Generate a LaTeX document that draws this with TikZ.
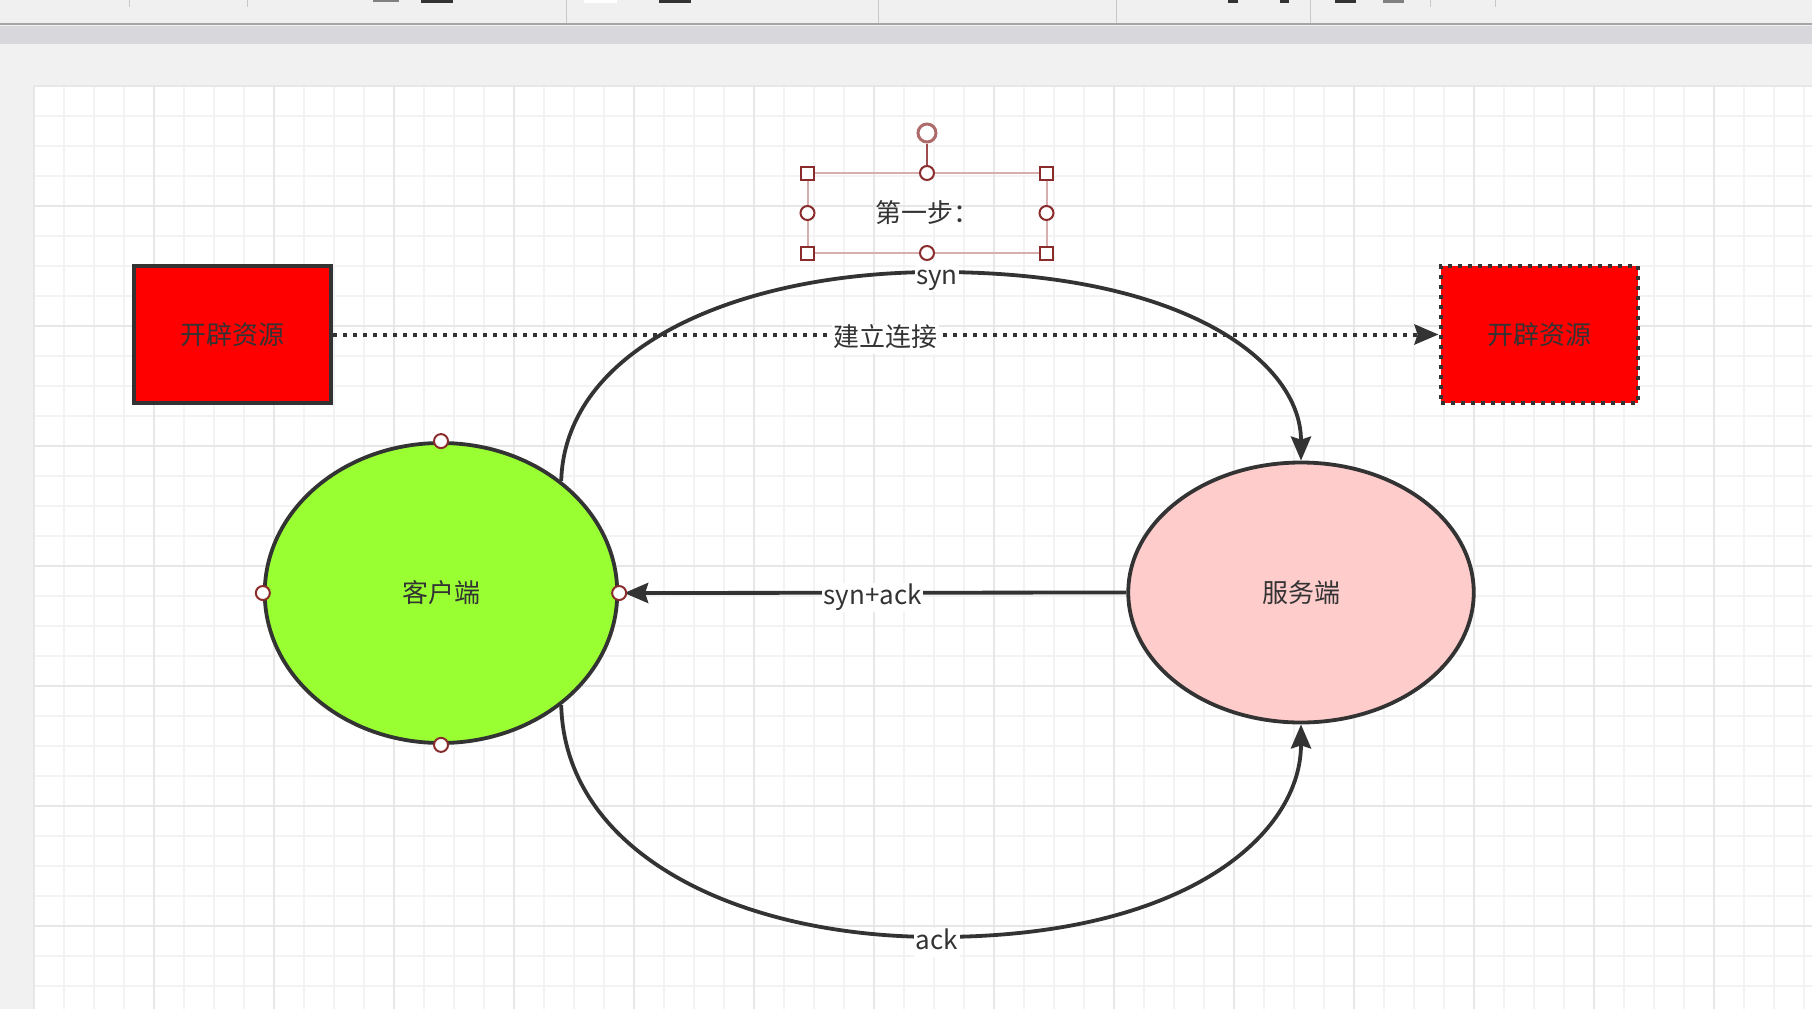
\documentclass[tikz,border=0pt]{standalone}
\usepackage{fontspec}
\setmainfont{Noto Sans CJK SC}
\usetikzlibrary{arrows.meta,shapes.geometric}

\definecolor{ink}{HTML}{333333}
\definecolor{clientgreen}{HTML}{99FF33}
\definecolor{serverpink}{HTML}{FFCCCC}
\definecolor{handlered}{HTML}{8B2C2C}
\definecolor{selpale}{HTML}{D6AEAE}
\definecolor{gridminor}{HTML}{F3F3F3}
\definecolor{gridmajor}{HTML}{E7E7E7}
\definecolor{pagebg}{HTML}{F1F1F1}
\definecolor{toolbg}{HTML}{F0F0F0}
\definecolor{bandgray}{HTML}{D8D8DC}
\definecolor{sepgray}{HTML}{C8C8C8}

\tikzset{
  base/.style={font=\fontsize{26pt}{30pt}\selectfont, text=ink},
  redbox/.style={base, draw=ink, fill=red, line width=4pt, minimum width=197pt,
    minimum height=137pt, inner sep=0pt},
  dotbox/.style={redbox, dash pattern=on 4pt off 6pt},
  peer/.style={base, ellipse, draw=ink, line width=3.8pt, inner sep=0pt},
  edge/.style={draw=ink, line width=3.8pt},
  tip/.style={-{Stealth[length=24pt,width=20pt,inset=3pt]}},
  dotline/.style={edge, line width=4pt, dash pattern=on 4pt off 6pt},
  lbl/.style={base, fill=white, inner sep=1.5pt, anchor=base, yshift=-12pt,
    text height=20pt, text depth=6pt},
  selbox/.style={base, draw=selpale, line width=2pt, minimum width=239pt,
    minimum height=80pt, inner sep=0pt, outer sep=0pt},
  chandle/.style={circle, draw=handlered, fill=white, line width=2pt,
    minimum size=14pt, inner sep=0pt},
  shandle/.style={rectangle, draw=handlered, fill=white, line width=2pt,
    minimum size=13pt, inner sep=0pt},
  rhandle/.style={circle, draw=handlered!70!white, fill=white, line width=3pt,
    minimum size=18pt, inner sep=0pt},
  gridline/.style={gridminor, line width=2pt},
  gridbold/.style={gridmajor, line width=2.5pt}
}

\begin{document}
\begin{tikzpicture}[x=1pt,y=-1pt]
\useasboundingbox (0,0) rectangle (1812,1009);

% Window background and toolbar
\fill[pagebg] (0,0) rectangle (1812,1009);
\fill[toolbg] (0,0) rectangle (1812,23);
\foreach \sx in {566,878,1116,1310}
  \draw[sepgray,line width=1pt] (\sx,0) -- (\sx,23);
\foreach \sx in {129,247,1430,1495}
  \draw[sepgray,line width=1pt] (\sx,0) -- (\sx,7);
\fill[gray] (373,0) rectangle (399,2);
\fill[ink] (421,0) rectangle (453,3);
\fill[white] (584,0) rectangle (617,3);
\fill[ink] (659,0) rectangle (691,3);
\fill[ink] (1228,0) rectangle (1238,3);
\fill[ink] (1280,0) rectangle (1289,3);
\fill[ink] (1335,0) rectangle (1356,3);
\fill[gray] (1383,0) rectangle (1404,3);
\draw[gray!70,line width=2.5pt] (0,24) -- (1812,24);
\fill[bandgray] (0,25.5) rectangle (1812,44);

% Canvas with grid
\fill[white] (34,86) rectangle (1812,1009);
\foreach \gx in {64,94,...,1812}
  \draw[gridline] (\gx,86) -- (\gx,1009);
\foreach \gy in {116,146,...,1009}
  \draw[gridline] (34,\gy) -- (1812,\gy);
\foreach \gx in {34,154,...,1812}
  \draw[gridbold] (\gx,86) -- (\gx,1009);
\foreach \gy in {86,206,...,1009}
  \draw[gridbold] (34,\gy) -- (1812,\gy);

% Resource boxes
\node[redbox] (resleft) at (232.5,334.5) {开辟资源};
\node[dotbox] (resright) at (1539,334.5) {开辟资源};

% Client and server
\node[peer, fill=clientgreen, minimum width=352.5pt, minimum height=300pt]
  (client) at (441,593) {客户端};
\node[peer, fill=serverpink, minimum width=345.5pt, minimum height=260pt]
  (server) at (1301,592.5) {服务端};

% Connection
\draw[dotline,tip] (resleft.east) -- (resright.west) node[lbl,midway] {建立连接};

% Handshake
\draw[edge,tip] (client.43) .. controls (565,348) and (737,272) .. (937,272)
  node[lbl] (syn) {syn}
  .. controls (1187,272) and (1301,363) .. (server.north);
\draw[edge,tip,shorten >=5pt] (server.west) -- (client.east)
  node[lbl,midway] (synack) {syn+ack};
\draw[edge,tip] (client.-43) .. controls (565,853) and (737,937) .. (937,937)
  node[lbl] (ack) {ack}
  .. controls (1187,937) and (1301,834) .. (server.south);

% Hover points on client
\foreach \a in {north,south,east,west}
  \node[chandle] at (client.\a) {};

% Selected text box
\node[selbox] (step1) at (927,213) {第一步：};
\node[rhandle] (rot) at (927,133) {};
\draw[handlered!85!white,line width=2pt] (rot) -- (step1.north);
\foreach \a in {north west,north east,south west,south east}
  \node[shandle] at (step1.\a) {};
\foreach \a in {north,south,east,west}
  \node[chandle] at (step1.\a) {};
\end{tikzpicture}
\end{document}
